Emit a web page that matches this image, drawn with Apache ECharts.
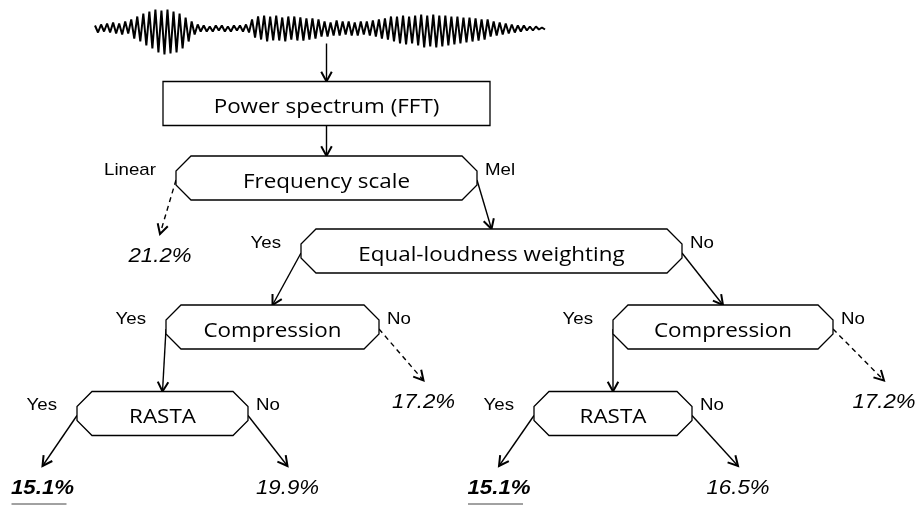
<!DOCTYPE html>
<html>
<head>
<meta charset="utf-8">
<style>
  html, body { margin: 0; padding: 0; background: #fff; }
  #chart { width: 917px; height: 505px; }
</style>
<script src="https://cdn.jsdelivr.net/npm/echarts@6/dist/echarts.min.js"></script>
</head>
<body>
<div id="chart"></div>
<script>
// speech waveform, signed amplitude per sample
var wave = [
  3, -4, 4, -3, 5, -4, 6, -5, 5, -6, 7, -5,
  9, -10, 12, -13, 15, -17, 17, -20, 19, -24, 18, -26, 19, -25, 17, -24, 15, -20, 11, -13,
  7, -6, 4, -3, 3, -3, 2, -3, 3, -2, 3, -3, 2, -3, 3, -2, 3, -3, 4, -4,
  9, -9, 12, -11, 13, -13, 12, -12, 13, -12, 11, -13, 12, -11, 12, -12, 11, -12, 10, -11, 10, -10, 9,
  -8, 7, -8, 6, -7, 8, -7, 7, -6, 7, -7, 6, -7, 7, -6, 7, -7, 8, -8, 9, -10, 10, -11,
  12, -13, 12, -15, 13, -16, 12, -15, 13, -17, 14, -19, 13, -18, 14, -19, 13, -18, 13, -17, 12, -16, 12, -15, 11, -14, 11, -13, 10, -12, 9, -11, 9,
  -8, 7, -7, 6, -6, 5, -5, 4, -4, 3, -3, 3, -2, 2, -2, 2, -1, 1, -1
];

// processing / decision nodes (centre in page units)
var nodeNames = ['Power spectrum (FFT)', 'Frequency scale', 'Equal-loudness weighting', 'Compression', 'Compression', 'RASTA', 'RASTA'];
var nodeX = [326.5, 326.5, 491.5, 272.5, 723, 162.5, 613];
var nodeY = [103.5, 178, 251, 327, 327, 413.5, 413.5];

// leaf results (error rates)
var resultNames = ['21.2%', '17.2%', '15.1%', '19.9%', '17.2%', '15.1%', '16.5%'];
var resultX = [160, 423.5, 42.5, 287.5, 884, 499, 738];
var resultY = [256, 402.5, 488, 488, 402.5, 488, 488];
var resultBest = [false, false, true, false, false, true, false];

// branches: even index = left exit, odd = right exit
var edgeFrom = [1, 1, 2, 2, 3, 3, 4, 4, 5, 5, 6, 6];
var edgeTo = ['r0', 'n2', 'n3', 'n4', 'n5', 'r1', 'n6', 'r4', 'r2', 'r3', 'r5', 'r6'];
var edgeLabel = ['Linear', 'Mel', 'Yes', 'No', 'Yes', 'No', 'Yes', 'No', 'Yes', 'No', 'Yes', 'No'];
var edgeDashed = [true, false, false, false, false, true, false, true, false, false, false, false];

// layout
var nodeW = [327, 301, 381, 213, 220, 171, 158];
var nodeShape = ['rect', 'oct', 'oct', 'oct', 'oct', 'oct', 'oct'];
var BOX_H = 44, CHAMFER = 15;

var edgeData = [], labelData = [];
edgeData.push([nodeX[0], nodeY[0] - BOX_H / 2 - 38, nodeX[0], nodeY[0] - BOX_H / 2, 0]);
edgeData.push([nodeX[0], nodeY[0] + BOX_H / 2, nodeX[1], nodeY[1] - BOX_H / 2, 0]);
edgeFrom.forEach(function (f, k) {
  var left = k % 2 === 0;
  var sx = left ? nodeX[f] - nodeW[f] / 2 : nodeX[f] + nodeW[f] / 2;
  var sy = nodeY[f] + 2;
  var j = +edgeTo[k].slice(1), ex, ey;
  if (edgeTo[k][0] === 'n') { ex = nodeX[j]; ey = nodeY[j] - BOX_H / 2; }
  else { ex = resultX[j]; ey = resultY[j] - 22; }
  edgeData.push([sx, sy, ex, ey, edgeDashed[k] ? 1 : 0]);
  labelData.push([left ? sx - 20 : sx + 8, nodeY[f] - 8, k]);
});

var chart = echarts.init(document.getElementById('chart'));

function renderNode(params, api) {
  var i = params.dataIndex;
  var c = api.coord([api.value(0), api.value(1)]);
  var s = api.size([nodeW[i], BOX_H]);
  var hw = s[0] / 2, hh = s[1] / 2, k = CHAMFER;
  var pts;
  if (nodeShape[i] === 'rect') {
    pts = [[-hw, -hh], [hw, -hh], [hw, hh], [-hw, hh]];
  } else {
    pts = [[-hw + k, -hh], [hw - k, -hh], [hw, -hh + k], [hw, hh - k],
           [hw - k, hh], [-hw + k, hh], [-hw, hh - k], [-hw, -hh + k]];
  }
  pts = pts.map(function (p) { return [c[0] + p[0], c[1] + p[1]]; });
  return {
    type: 'group',
    children: [
      { type: 'polygon', shape: { points: pts }, style: { fill: '#fff', stroke: '#000', lineWidth: 1.3 } },
      { type: 'text', x: c[0], y: c[1] + 4, scaleX: 1.12,
        style: { text: nodeNames[i], font: '20px "Open Sans"', fill: '#000', align: 'center', verticalAlign: 'middle' } }
    ]
  };
}

function renderEdge(params, api) {
  var p1 = api.coord([api.value(0), api.value(1)]);
  var p2 = api.coord([api.value(2), api.value(3)]);
  var dashed = api.value(4) === 1;
  var ang = Math.atan2(p2[1] - p1[1], p2[0] - p1[0]);
  var L = 11, a = 0.5;
  var h1 = [p2[0] - L * Math.cos(ang - a), p2[1] - L * Math.sin(ang - a)];
  var h2 = [p2[0] - L * Math.cos(ang + a), p2[1] - L * Math.sin(ang + a)];
  return {
    type: 'group',
    children: [
      { type: 'line', shape: { x1: p1[0], y1: p1[1], x2: p2[0], y2: p2[1] },
        style: { stroke: '#000', lineWidth: 1.4, lineDash: dashed ? [5, 4] : null } },
      { type: 'polyline', shape: { points: [h1, p2, h2] },
        style: { stroke: '#000', lineWidth: 2, fill: null } }
    ]
  };
}

function renderLabel(params, api) {
  var k = api.value(2);
  var c = api.coord([api.value(0), api.value(1)]);
  return {
    type: 'text', x: c[0], y: c[1], scaleX: 1.1,
    style: { text: edgeLabel[k], font: '17px "Liberation Sans"', fill: '#000',
             align: k % 2 === 0 ? 'right' : 'left', verticalAlign: 'middle' }
  };
}

function renderResult(params, api) {
  var i = params.dataIndex;
  var c = api.coord([api.value(0), api.value(1)]);
  var best = resultBest[i];
  var children = [
    { type: 'text', x: c[0], y: c[1], scaleX: 1.06,
      style: { text: resultNames[i], font: (best ? 'italic bold ' : 'italic ') + '21px "Liberation Sans"',
               fill: '#000', align: 'center', verticalAlign: 'middle' } }
  ];
  if (best) {
    children.push({ type: 'line', shape: { x1: c[0] - 31, y1: c[1] + 16, x2: c[0] + 24, y2: c[1] + 16 },
                    style: { stroke: '#444', lineWidth: 1 } });
  }
  return { type: 'group', children: children };
}

var option = {
  animation: false,
  backgroundColor: '#fff',
  grid: [
    { left: 0, right: 0, top: 0, bottom: 0 },
    { left: 95, width: 450, top: 0, height: 57 }
  ],
  xAxis: [
    { type: 'value', gridIndex: 0, min: 0, max: 917, show: false },
    { type: 'value', gridIndex: 1, min: 0, max: wave.length - 1, show: false }
  ],
  yAxis: [
    { type: 'value', gridIndex: 0, min: 0, max: 505, inverse: true, show: false },
    { type: 'value', gridIndex: 1, min: -28.5, max: 28.5, show: false }
  ],
  series: [
    {
      type: 'line', xAxisIndex: 1, yAxisIndex: 1,
      data: wave.map(function (v, i) { return [i, v]; }),
      symbol: 'none', lineStyle: { color: '#000', width: 2 }, silent: true
    },
    {
      type: 'custom', xAxisIndex: 0, yAxisIndex: 0, clip: false, silent: true,
      data: edgeData, encode: { x: [0, 2], y: [1, 3] }, renderItem: renderEdge
    },
    {
      type: 'custom', xAxisIndex: 0, yAxisIndex: 0, clip: false, silent: true,
      data: nodeX.map(function (x, i) { return [x, nodeY[i]]; }),
      encode: { x: 0, y: 1 }, renderItem: renderNode
    },
    {
      type: 'custom', xAxisIndex: 0, yAxisIndex: 0, clip: false, silent: true,
      data: labelData, encode: { x: 0, y: 1 }, renderItem: renderLabel
    },
    {
      type: 'custom', xAxisIndex: 0, yAxisIndex: 0, clip: false, silent: true,
      data: resultX.map(function (x, i) { return [x, resultY[i]]; }),
      encode: { x: 0, y: 1 }, renderItem: renderResult
    }
  ]
};
chart.setOption(option);
</script>
</body>
</html>
